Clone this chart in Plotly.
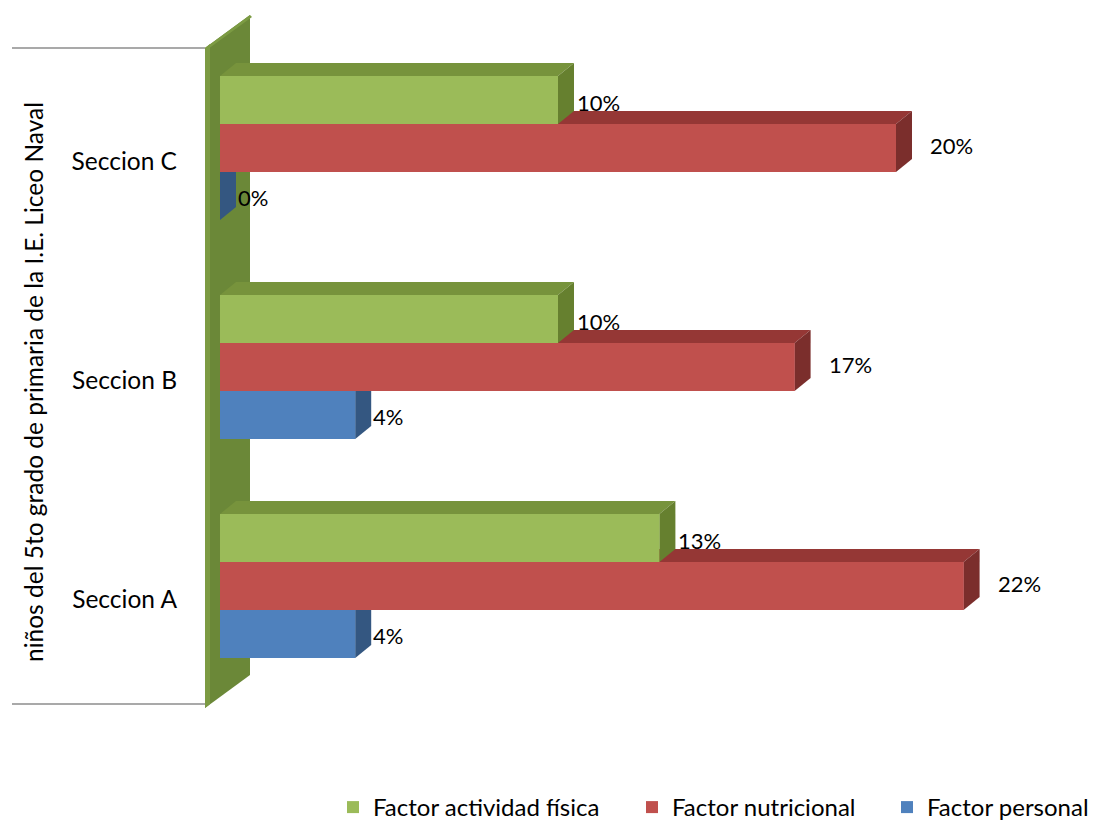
import plotly.graph_objects as go

# ---- data -------------------------------------------------------------
categories = ["Seccion A", "Seccion B", "Seccion C"]
series_names = ["Factor actividad física", "Factor nutricional", "Factor personal"]
actividad_fisica = [13, 10, 10]
nutricional = [22, 17, 20]
personal = [4, 4, 0]
axis_title = "niños del 5to grado de primaria de la I.E. Liceo Naval"

# ---- styling ----------------------------------------------------------
FONT = "Lato"
FS = 24.5          # axis and title text
FS_LEGEND = 24     # legend text
FS_LABEL = 22      # value labels
W, H = 1096, 825
ML, MR, MT, MB = 200, 6, 6, 115
PLOT_W = W - ML - MR
PLOT_H = H - MT - MB

PX_PER_PCT = 33.8        # horizontal scale: pixels per percentage point
PX_PER_CAT = 219.0       # vertical scale: pixels per category
ZERO_PX = 220            # pixel column of the value 0
TOP_CAT_PX = 148         # pixel row of the top category centre
LEGEND_BOTTOM_PX = 830   # legend box bottom edge (box padding hangs below the page)

x_lo = -(ZERO_PX - ML) / PX_PER_PCT
x_hi = x_lo + PLOT_W / PX_PER_PCT
y_hi = (len(categories) - 1) + (TOP_CAT_PX - MT) / PX_PER_CAT
y_lo = y_hi - PLOT_H / PX_PER_CAT


def px_to_x(px):
    return (px - ZERO_PX) / PX_PER_PCT


def py_to_y(py):
    return (len(categories) - 1) + (TOP_CAT_PX - py) / PX_PER_CAT


bar_w = 48 / PX_PER_CAT          # thickness of one bar
dx = 16 / PX_PER_PCT             # depth offset, horizontal
dy = 13 / PX_PER_CAT             # depth offset, vertical

positions = list(range(len(categories)))

# series: values, slot inside group (+1 top, 0 middle, -1 bottom), colours
series = [
    dict(name=series_names[0], values=actividad_fisica, slot=1, legend="legend", legend_px=333,
         front="#9BBB59", top="#77933C", side="#66802F", label_shift=17, label_dy=-2),
    dict(name=series_names[1], values=nutricional, slot=0, legend="legend2", legend_px=632,
         front="#C0504D", top="#953735", side="#7B2E2C", label_shift=32, label_dy=3),
    dict(name=series_names[2], values=personal, slot=-1, legend="legend3", legend_px=887,
         front="#4F81BD", top="#3D6696", side="#345781", label_shift=16, label_dy=-1),
]

fig = go.Figure()


def poly(xs, ys, color):
    return go.Scatter(
        x=list(xs) + [xs[0]], y=list(ys) + [ys[0]],
        mode="none", fill="toself", fillcolor=color,
        hoverinfo="skip", showlegend=False,
    )


# ---- back wall (slab to the left of the bars) --------------------------
wall_main = [(205, 48), (250, 15), (250, 675), (205, 708)]
wall_edge = [(205, 48), (210, 44), (210, 704), (205, 708)]
wall_top = [(205, 48), (250, 15), (252, 17), (208, 49)]
fig.add_trace(poly([px_to_x(p[0]) for p in wall_main], [py_to_y(p[1]) for p in wall_main], "#6B8838"))
fig.add_trace(poly([px_to_x(p[0]) for p in wall_edge], [py_to_y(p[1]) for p in wall_edge], "#7C9B43"))
fig.add_trace(poly([px_to_x(p[0]) for p in wall_top], [py_to_y(p[1]) for p in wall_top], "#7C9B43"))

# ---- front faces as bars (also give the legend entries) -----------------
for s in series:
    fig.add_trace(go.Bar(
        name=s["name"], orientation="h",
        x=s["values"], y=positions,
        width=bar_w, offset=s["slot"] * bar_w - bar_w / 2,
        marker=dict(color=s["front"], line=dict(width=0)),
        hovertemplate="%{x}%<extra>" + s["name"] + "</extra>",
        legend=s["legend"],
    ))

# ---- 3D faces, painted bottom bar first so upper bars cover lower tops ---
for i, pos in enumerate(positions):
    for s in sorted(series, key=lambda d: d["slot"]):
        v = s["values"][i]
        b = pos + s["slot"] * bar_w - bar_w / 2
        t = b + bar_w
        # top face
        fig.add_trace(poly([0, dx, v + dx, v], [t, t + dy, t + dy, t], s["top"]))
        # right side face
        fig.add_trace(poly([v, v + dx, v + dx, v], [b, b + dy, t + dy, t], s["side"]))
        # front face
        if v > 0:
            fig.add_trace(poly([0, v, v, 0], [b, b, t, t], s["front"]))

# ---- value labels -------------------------------------------------------
annotations = []
for s in series:
    for i, pos in enumerate(positions):
        v = s["values"][i]
        annotations.append(dict(
            x=v, y=pos + s["slot"] * bar_w, xref="x", yref="y",
            text=f"{v}%", showarrow=False, xanchor="left", yanchor="middle",
            xshift=s["label_shift"], yshift=s["label_dy"],
            font=dict(family=FONT, size=FS_LABEL, color="#000000"),
        ))

annotations.append(dict(
    x=(33 - ML) / PLOT_W, y=(H - MB - 382) / PLOT_H, xref="paper", yref="paper",
    text=axis_title, textangle=-90, showarrow=False,
    xanchor="center", yanchor="middle",
    font=dict(family=FONT, size=FS, color="#000000"),
))

# category boundary tick lines
shapes = []
for py in (48, 704):
    shapes.append(dict(
        type="line", xref="paper", yref="paper",
        x0=(12 - ML) / PLOT_W, x1=(205 - ML) / PLOT_W,
        y0=(H - MB - py) / PLOT_H, y1=(H - MB - py) / PLOT_H,
        line=dict(color="#8C8C8C", width=1.5),
    ))

legend_style = dict(
    orientation="h", xanchor="left", yanchor="bottom",
    y=(H - MB - LEGEND_BOTTOM_PX) / PLOT_H,
    font=dict(family=FONT, size=FS_LEGEND, color="#000000"),
    bgcolor="rgba(0,0,0,0)", itemclick=False, itemdoubleclick=False,
)
legends = {s["legend"]: dict(legend_style, x=(s["legend_px"] - ML) / PLOT_W) for s in series}

fig.update_layout(
    width=W, height=H,
    margin=dict(l=ML, r=MR, t=MT, b=MB, autoexpand=False),
    paper_bgcolor="white", plot_bgcolor="white",
    barmode="overlay",
    font=dict(family=FONT, size=FS, color="#000000"),
    xaxis=dict(range=[x_lo, x_hi], visible=False, fixedrange=True),
    yaxis=dict(
        range=[y_lo, y_hi],
        tickvals=[p - 13 / PX_PER_CAT for p in positions], ticktext=categories,
        ticks="", showgrid=False, zeroline=False, showline=False,
        ticklabelstandoff=22, tickfont=dict(family=FONT, size=FS, color="#000000"),
        fixedrange=True,
    ),
    annotations=annotations,
    shapes=shapes,
    showlegend=True,
    **legends,
)

fig.write_html("out.html")
